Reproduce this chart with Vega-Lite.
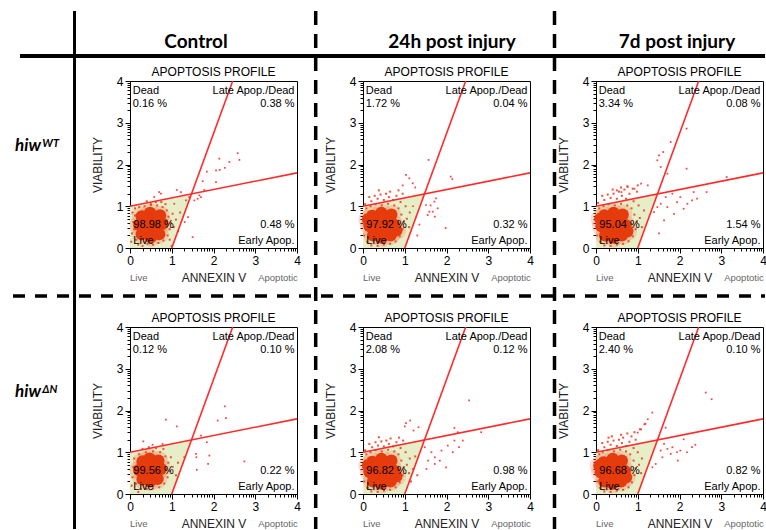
{
  "$schema": "https://vega.github.io/schema/vega-lite/v6.json",
  "padding": {"left": 10, "top": 8, "right": 0, "bottom": 0},
  "background": "white",
  "datasets": {
    "panels": [
      {"p": "A", "g": "WT", "c": "Control"},
      {"p": "B", "g": "WT", "c": "24h post injury"},
      {"p": "C", "g": "WT", "c": "7d post injury"},
      {"p": "D", "g": "ΔN", "c": "Control"},
      {"p": "E", "g": "ΔN", "c": "24h post injury"},
      {"p": "F", "g": "ΔN", "c": "7d post injury"}
    ]
  },
  "data": {"values": [
    {"p":"A","k":"s","dead":"0.16 %","late":"0.38 %","live":"98.98 %","early":"0.48 %"},
    {"p":"B","k":"s","dead":"1.72 %","late":"0.04 %","live":"97.92 %","early":"0.32 %"},
    {"p":"C","k":"s","dead":"3.34 %","late":"0.08 %","live":"95.04 %","early":"1.54 %"},
    {"p":"D","k":"s","dead":"0.12 %","late":"0.10 %","live":"99.56 %","early":"0.22 %"},
    {"p":"E","k":"s","dead":"2.08 %","late":"0.12 %","live":"96.82 %","early":"0.98 %"},
    {"p":"F","k":"s","dead":"2.40 %","late":"0.10 %","live":"96.68 %","early":"0.82 %"},
    {"p":"A","k":"g","x":0,"hi":1,"lo":0},{"p":"A","k":"g","x":1,"hi":1.2,"lo":0},{"p":"A","k":"g","x":1.472,"hi":1.294,"lo":1.294},
    {"p":"B","k":"g","x":0,"hi":1,"lo":0},{"p":"B","k":"g","x":1,"hi":1.2,"lo":0},{"p":"B","k":"g","x":1.472,"hi":1.294,"lo":1.294},
    {"p":"C","k":"g","x":0,"hi":1,"lo":0},{"p":"C","k":"g","x":1,"hi":1.2,"lo":0},{"p":"C","k":"g","x":1.472,"hi":1.294,"lo":1.294},
    {"p":"D","k":"g","x":0,"hi":1,"lo":0},{"p":"D","k":"g","x":1,"hi":1.2,"lo":0},{"p":"D","k":"g","x":1.472,"hi":1.294,"lo":1.294},
    {"p":"E","k":"g","x":0,"hi":1,"lo":0},{"p":"E","k":"g","x":1,"hi":1.2,"lo":0},{"p":"E","k":"g","x":1.472,"hi":1.294,"lo":1.294},
    {"p":"F","k":"g","x":0,"hi":1,"lo":0},{"p":"F","k":"g","x":1,"hi":1.2,"lo":0},{"p":"F","k":"g","x":1.472,"hi":1.294,"lo":1.294},

    {"p":"A","k":"c","x":0.5,"y":0.56},{"p":"A","k":"c","x":0.34,"y":0.56},{"p":"A","k":"c","x":0.66,"y":0.56},{"p":"A","k":"c","x":0.5,"y":0.4},{"p":"A","k":"c","x":0.5,"y":0.72},{"p":"A","k":"c","x":0.37,"y":0.43},{"p":"A","k":"c","x":0.63,"y":0.43},{"p":"A","k":"c","x":0.37,"y":0.69},{"p":"A","k":"c","x":0.63,"y":0.69},{"p":"A","k":"c","x":0.22,"y":0.55},{"p":"A","k":"c","x":0.78,"y":0.58},{"p":"A","k":"c","x":0.5,"y":0.26},{"p":"A","k":"c","x":0.48,"y":0.84},{"p":"A","k":"c","x":0.28,"y":0.33},{"p":"A","k":"c","x":0.7,"y":0.33},{"p":"A","k":"c","x":0.28,"y":0.76},{"p":"A","k":"c","x":0.72,"y":0.78},
    {"p":"A","k":"f","x":0.05,"y":0.35},{"p":"A","k":"f","x":0.08,"y":0.62},{"p":"A","k":"f","x":0.06,"y":0.85},{"p":"A","k":"f","x":0.12,"y":0.95},{"p":"A","k":"f","x":0.15,"y":0.2},{"p":"A","k":"f","x":0.2,"y":0.08},{"p":"A","k":"f","x":0.3,"y":0.05},{"p":"A","k":"f","x":0.42,"y":0.1},{"p":"A","k":"f","x":0.55,"y":0.08},{"p":"A","k":"f","x":0.68,"y":0.12},{"p":"A","k":"f","x":0.8,"y":0.18},{"p":"A","k":"f","x":0.9,"y":0.3},{"p":"A","k":"f","x":0.95,"y":0.45},{"p":"A","k":"f","x":0.98,"y":0.6},{"p":"A","k":"f","x":0.92,"y":0.75},{"p":"A","k":"f","x":0.88,"y":0.9},{"p":"A","k":"f","x":0.78,"y":0.98},{"p":"A","k":"f","x":0.65,"y":1.02},{"p":"A","k":"f","x":0.5,"y":1.03},{"p":"A","k":"f","x":0.35,"y":1.0},{"p":"A","k":"f","x":0.22,"y":0.98},{"p":"A","k":"f","x":0.12,"y":0.78},{"p":"A","k":"f","x":0.1,"y":0.45},{"p":"A","k":"f","x":1.05,"y":0.5},{"p":"A","k":"f","x":1.1,"y":0.68},{"p":"A","k":"f","x":1.02,"y":0.82},{"p":"A","k":"f","x":0.95,"y":0.2},{"p":"A","k":"f","x":1.15,"y":0.4},{"p":"A","k":"f","x":0.62,"y":1.1},{"p":"A","k":"f","x":0.4,"y":1.12},{"p":"A","k":"f","x":0.75,"y":1.1},{"p":"A","k":"f","x":1.2,"y":0.85},{"p":"A","k":"f","x":0.85,"y":1.05},{"p":"A","k":"f","x":0.03,"y":0.15},{"p":"A","k":"f","x":1.0,"y":0.05},
    {"p":"A","k":"o","x":2.14,"y":2.14},{"p":"A","k":"o","x":2.58,"y":2.27},{"p":"A","k":"o","x":2.62,"y":2.11},{"p":"A","k":"o","x":2.38,"y":2.06},{"p":"A","k":"o","x":2.27,"y":1.92},{"p":"A","k":"o","x":2.06,"y":1.86},{"p":"A","k":"o","x":2.15,"y":1.87},{"p":"A","k":"o","x":1.84,"y":1.83},{"p":"A","k":"o","x":1.74,"y":1.6},{"p":"A","k":"o","x":2.06,"y":1.58},{"p":"A","k":"o","x":1.78,"y":1.39},{"p":"A","k":"o","x":1.66,"y":1.26},{"p":"A","k":"o","x":1.62,"y":1.18},{"p":"A","k":"o","x":1.54,"y":1.14},{"p":"A","k":"o","x":1.7,"y":1.22},{"p":"A","k":"o","x":1.39,"y":0.74},{"p":"A","k":"o","x":1.31,"y":0.62},{"p":"A","k":"o","x":1.5,"y":0.26},{"p":"A","k":"o","x":1.22,"y":1.34},{"p":"A","k":"o","x":1.12,"y":1.39},{"p":"A","k":"o","x":0.7,"y":1.34},{"p":"A","k":"o","x":0.74,"y":1.3},{"p":"A","k":"o","x":0.58,"y":1.22},{"p":"A","k":"o","x":0.5,"y":1.06},{"p":"A","k":"o","x":1.06,"y":1.06},{"p":"A","k":"o","x":1.34,"y":1.14},{"p":"A","k":"o","x":1.42,"y":1.22},

    {"p":"B","k":"c","x":0.45,"y":0.55},{"p":"B","k":"c","x":0.29,"y":0.55},{"p":"B","k":"c","x":0.61,"y":0.55},{"p":"B","k":"c","x":0.45,"y":0.39},{"p":"B","k":"c","x":0.45,"y":0.71},{"p":"B","k":"c","x":0.32,"y":0.42},{"p":"B","k":"c","x":0.58,"y":0.42},{"p":"B","k":"c","x":0.32,"y":0.68},{"p":"B","k":"c","x":0.58,"y":0.68},{"p":"B","k":"c","x":0.16,"y":0.52},{"p":"B","k":"c","x":0.74,"y":0.56},{"p":"B","k":"c","x":0.45,"y":0.25},{"p":"B","k":"c","x":0.44,"y":0.84},{"p":"B","k":"c","x":0.24,"y":0.3},{"p":"B","k":"c","x":0.66,"y":0.3},{"p":"B","k":"c","x":0.22,"y":0.77},{"p":"B","k":"c","x":0.68,"y":0.8},{"p":"B","k":"c","x":0.12,"y":0.68},{"p":"B","k":"c","x":0.8,"y":0.42},
    {"p":"B","k":"f","x":0.03,"y":0.3},{"p":"B","k":"f","x":0.03,"y":0.55},{"p":"B","k":"f","x":0.05,"y":0.8},{"p":"B","k":"f","x":0.08,"y":0.95},{"p":"B","k":"f","x":0.1,"y":0.15},{"p":"B","k":"f","x":0.2,"y":0.06},{"p":"B","k":"f","x":0.35,"y":0.05},{"p":"B","k":"f","x":0.5,"y":0.08},{"p":"B","k":"f","x":0.65,"y":0.1},{"p":"B","k":"f","x":0.78,"y":0.16},{"p":"B","k":"f","x":0.88,"y":0.28},{"p":"B","k":"f","x":0.95,"y":0.45},{"p":"B","k":"f","x":0.98,"y":0.62},{"p":"B","k":"f","x":0.92,"y":0.8},{"p":"B","k":"f","x":0.85,"y":0.95},{"p":"B","k":"f","x":0.75,"y":1.02},{"p":"B","k":"f","x":0.6,"y":1.06},{"p":"B","k":"f","x":0.45,"y":1.02},{"p":"B","k":"f","x":0.3,"y":1.05},{"p":"B","k":"f","x":0.18,"y":1.0},{"p":"B","k":"f","x":0.2,"y":1.12},{"p":"B","k":"f","x":0.35,"y":1.18},{"p":"B","k":"f","x":0.5,"y":1.15},{"p":"B","k":"f","x":0.62,"y":1.22},{"p":"B","k":"f","x":0.72,"y":1.15},{"p":"B","k":"f","x":0.42,"y":1.28},{"p":"B","k":"f","x":0.55,"y":1.3},{"p":"B","k":"f","x":0.28,"y":1.25},{"p":"B","k":"f","x":0.8,"y":1.25},{"p":"B","k":"f","x":0.9,"y":1.1},{"p":"B","k":"f","x":1.02,"y":1.0},{"p":"B","k":"f","x":1.05,"y":0.7},{"p":"B","k":"f","x":1.1,"y":0.5},{"p":"B","k":"f","x":0.15,"y":1.22},{"p":"B","k":"f","x":0.65,"y":1.35},{"p":"B","k":"f","x":0.85,"y":1.38},{"p":"B","k":"f","x":0.38,"y":1.38},{"p":"B","k":"f","x":1.12,"y":0.85},{"p":"B","k":"f","x":0.05,"y":1.05},{"p":"B","k":"f","x":0.95,"y":1.3},
    {"p":"B","k":"o","x":1.57,"y":2.11},{"p":"B","k":"o","x":1.03,"y":1.75},{"p":"B","k":"o","x":1.11,"y":1.67},{"p":"B","k":"o","x":1.19,"y":1.55},{"p":"B","k":"o","x":2.1,"y":1.71},{"p":"B","k":"o","x":2.14,"y":1.65},{"p":"B","k":"o","x":1.75,"y":1.19},{"p":"B","k":"o","x":1.71,"y":1.11},{"p":"B","k":"o","x":1.79,"y":0.95},{"p":"B","k":"o","x":1.59,"y":0.87},{"p":"B","k":"o","x":1.67,"y":0.87},{"p":"B","k":"o","x":1.98,"y":0.48},{"p":"B","k":"o","x":1.35,"y":0.56},{"p":"B","k":"o","x":1.51,"y":1.03},{"p":"B","k":"o","x":1.55,"y":0.79},{"p":"B","k":"o","x":1.25,"y":1.45},{"p":"B","k":"o","x":0.95,"y":1.5},{"p":"B","k":"o","x":1.3,"y":0.3},{"p":"B","k":"o","x":1.2,"y":1.0},{"p":"B","k":"o","x":1.62,"y":1.02},{"p":"B","k":"o","x":1.72,"y":0.75},

    {"p":"C","k":"c","x":0.42,"y":0.55},{"p":"C","k":"c","x":0.26,"y":0.55},{"p":"C","k":"c","x":0.58,"y":0.55},{"p":"C","k":"c","x":0.42,"y":0.39},{"p":"C","k":"c","x":0.42,"y":0.71},{"p":"C","k":"c","x":0.29,"y":0.42},{"p":"C","k":"c","x":0.55,"y":0.42},{"p":"C","k":"c","x":0.29,"y":0.68},{"p":"C","k":"c","x":0.55,"y":0.68},{"p":"C","k":"c","x":0.13,"y":0.52},{"p":"C","k":"c","x":0.71,"y":0.55},{"p":"C","k":"c","x":0.42,"y":0.25},{"p":"C","k":"c","x":0.42,"y":0.84},{"p":"C","k":"c","x":0.22,"y":0.3},{"p":"C","k":"c","x":0.62,"y":0.3},{"p":"C","k":"c","x":0.2,"y":0.78},{"p":"C","k":"c","x":0.64,"y":0.8},{"p":"C","k":"c","x":0.1,"y":0.7},{"p":"C","k":"c","x":0.75,"y":0.4},
    {"p":"C","k":"f","x":0.03,"y":0.3},{"p":"C","k":"f","x":0.03,"y":0.55},{"p":"C","k":"f","x":0.05,"y":0.8},{"p":"C","k":"f","x":0.08,"y":0.95},{"p":"C","k":"f","x":0.1,"y":0.15},{"p":"C","k":"f","x":0.2,"y":0.06},{"p":"C","k":"f","x":0.35,"y":0.05},{"p":"C","k":"f","x":0.5,"y":0.08},{"p":"C","k":"f","x":0.65,"y":0.1},{"p":"C","k":"f","x":0.78,"y":0.16},{"p":"C","k":"f","x":0.88,"y":0.28},{"p":"C","k":"f","x":0.95,"y":0.45},{"p":"C","k":"f","x":0.98,"y":0.62},{"p":"C","k":"f","x":0.92,"y":0.8},{"p":"C","k":"f","x":0.85,"y":0.95},{"p":"C","k":"f","x":0.75,"y":1.02},{"p":"C","k":"f","x":0.6,"y":1.06},{"p":"C","k":"f","x":0.45,"y":1.02},{"p":"C","k":"f","x":0.3,"y":1.05},{"p":"C","k":"f","x":0.18,"y":1.0},{"p":"C","k":"f","x":0.2,"y":1.15},{"p":"C","k":"f","x":0.35,"y":1.2},{"p":"C","k":"f","x":0.5,"y":1.18},{"p":"C","k":"f","x":0.62,"y":1.25},{"p":"C","k":"f","x":0.72,"y":1.18},{"p":"C","k":"f","x":0.42,"y":1.3},{"p":"C","k":"f","x":0.55,"y":1.35},{"p":"C","k":"f","x":0.28,"y":1.28},{"p":"C","k":"f","x":0.8,"y":1.3},{"p":"C","k":"f","x":0.9,"y":1.12},{"p":"C","k":"f","x":1.02,"y":1.02},{"p":"C","k":"f","x":1.05,"y":0.72},{"p":"C","k":"f","x":1.1,"y":0.5},{"p":"C","k":"f","x":0.15,"y":1.25},{"p":"C","k":"f","x":0.68,"y":1.4},{"p":"C","k":"f","x":0.88,"y":1.42},{"p":"C","k":"f","x":0.4,"y":1.4},{"p":"C","k":"f","x":1.15,"y":0.9},{"p":"C","k":"f","x":0.05,"y":1.08},{"p":"C","k":"f","x":0.98,"y":1.35},{"p":"C","k":"f","x":0.6,"y":1.45},{"p":"C","k":"f","x":0.75,"y":1.48},{"p":"C","k":"f","x":1.0,"y":1.5},{"p":"C","k":"f","x":0.5,"y":1.38},
    {"p":"C","k":"o","x":2.17,"y":2.86},{"p":"C","k":"o","x":1.79,"y":2.54},{"p":"C","k":"o","x":1.61,"y":2.3},{"p":"C","k":"o","x":1.51,"y":2.22},{"p":"C","k":"o","x":1.47,"y":2.1},{"p":"C","k":"o","x":2.17,"y":1.9},{"p":"C","k":"o","x":1.55,"y":1.94},{"p":"C","k":"o","x":1.71,"y":1.78},{"p":"C","k":"o","x":2.65,"y":1.34},{"p":"C","k":"o","x":3.13,"y":1.7},{"p":"C","k":"o","x":2.34,"y":1.34},{"p":"C","k":"o","x":2.42,"y":1.18},{"p":"C","k":"o","x":2.19,"y":1.06},{"p":"C","k":"o","x":1.94,"y":1.1},{"p":"C","k":"o","x":1.87,"y":0.82},{"p":"C","k":"o","x":1.63,"y":0.66},{"p":"C","k":"o","x":1.51,"y":0.35},{"p":"C","k":"o","x":1.55,"y":1.06},{"p":"C","k":"o","x":1.71,"y":0.98},{"p":"C","k":"o","x":2.02,"y":1.22},{"p":"C","k":"o","x":2.1,"y":0.94},{"p":"C","k":"o","x":1.83,"y":1.3},{"p":"C","k":"o","x":1.67,"y":1.22},{"p":"C","k":"o","x":1.47,"y":0.98},{"p":"C","k":"o","x":1.39,"y":0.86},{"p":"C","k":"o","x":2.3,"y":1.14},{"p":"C","k":"o","x":1.08,"y":1.54},{"p":"C","k":"o","x":1.24,"y":1.5},{"p":"C","k":"o","x":0.92,"y":1.42},{"p":"C","k":"o","x":0.76,"y":1.46},{"p":"C","k":"o","x":0.61,"y":1.34},

    {"p":"D","k":"c","x":0.48,"y":0.58},{"p":"D","k":"c","x":0.33,"y":0.58},{"p":"D","k":"c","x":0.63,"y":0.58},{"p":"D","k":"c","x":0.48,"y":0.43},{"p":"D","k":"c","x":0.48,"y":0.73},{"p":"D","k":"c","x":0.36,"y":0.46},{"p":"D","k":"c","x":0.6,"y":0.46},{"p":"D","k":"c","x":0.36,"y":0.7},{"p":"D","k":"c","x":0.6,"y":0.7},{"p":"D","k":"c","x":0.22,"y":0.57},{"p":"D","k":"c","x":0.74,"y":0.6},{"p":"D","k":"c","x":0.48,"y":0.3},{"p":"D","k":"c","x":0.47,"y":0.85},{"p":"D","k":"c","x":0.3,"y":0.35},{"p":"D","k":"c","x":0.66,"y":0.36},{"p":"D","k":"c","x":0.3,"y":0.78},{"p":"D","k":"c","x":0.68,"y":0.8},
    {"p":"D","k":"f","x":0.06,"y":0.4},{"p":"D","k":"f","x":0.08,"y":0.65},{"p":"D","k":"f","x":0.1,"y":0.85},{"p":"D","k":"f","x":0.15,"y":0.25},{"p":"D","k":"f","x":0.25,"y":0.12},{"p":"D","k":"f","x":0.4,"y":0.12},{"p":"D","k":"f","x":0.55,"y":0.14},{"p":"D","k":"f","x":0.7,"y":0.16},{"p":"D","k":"f","x":0.82,"y":0.25},{"p":"D","k":"f","x":0.9,"y":0.4},{"p":"D","k":"f","x":0.95,"y":0.55},{"p":"D","k":"f","x":0.92,"y":0.75},{"p":"D","k":"f","x":0.85,"y":0.9},{"p":"D","k":"f","x":0.72,"y":1.0},{"p":"D","k":"f","x":0.55,"y":1.02},{"p":"D","k":"f","x":0.38,"y":1.0},{"p":"D","k":"f","x":0.22,"y":0.95},{"p":"D","k":"f","x":0.12,"y":0.5},{"p":"D","k":"f","x":1.02,"y":0.65},{"p":"D","k":"f","x":0.98,"y":0.88},{"p":"D","k":"f","x":0.62,"y":1.1},{"p":"D","k":"f","x":0.3,"y":1.08},{"p":"D","k":"f","x":1.1,"y":0.45},{"p":"D","k":"f","x":0.04,"y":0.2},{"p":"D","k":"f","x":0.2,"y":0.05},{"p":"D","k":"f","x":1.15,"y":0.75},{"p":"D","k":"f","x":0.8,"y":1.08},{"p":"D","k":"f","x":0.45,"y":1.12},
    {"p":"D","k":"o","x":2.27,"y":2.1},{"p":"D","k":"o","x":2.3,"y":1.82},{"p":"D","k":"o","x":2.1,"y":1.76},{"p":"D","k":"o","x":0.86,"y":1.78},{"p":"D","k":"o","x":1.12,"y":1.62},{"p":"D","k":"o","x":1.7,"y":1.4},{"p":"D","k":"o","x":1.84,"y":1.24},{"p":"D","k":"o","x":1.58,"y":0.96},{"p":"D","k":"o","x":1.59,"y":0.88},{"p":"D","k":"o","x":1.9,"y":0.92},{"p":"D","k":"o","x":1.87,"y":0.72},{"p":"D","k":"o","x":1.6,"y":0.58},{"p":"D","k":"o","x":2.74,"y":0.78},{"p":"D","k":"o","x":0.32,"y":1.26},{"p":"D","k":"o","x":0.54,"y":1.18},{"p":"D","k":"o","x":0.78,"y":1.2},{"p":"D","k":"o","x":1.3,"y":0.88},

    {"p":"E","k":"c","x":0.45,"y":0.55},{"p":"E","k":"c","x":0.29,"y":0.55},{"p":"E","k":"c","x":0.61,"y":0.55},{"p":"E","k":"c","x":0.45,"y":0.39},{"p":"E","k":"c","x":0.45,"y":0.71},{"p":"E","k":"c","x":0.32,"y":0.42},{"p":"E","k":"c","x":0.58,"y":0.42},{"p":"E","k":"c","x":0.32,"y":0.68},{"p":"E","k":"c","x":0.58,"y":0.68},{"p":"E","k":"c","x":0.16,"y":0.52},{"p":"E","k":"c","x":0.74,"y":0.56},{"p":"E","k":"c","x":0.45,"y":0.25},{"p":"E","k":"c","x":0.44,"y":0.84},{"p":"E","k":"c","x":0.24,"y":0.3},{"p":"E","k":"c","x":0.66,"y":0.3},{"p":"E","k":"c","x":0.22,"y":0.77},{"p":"E","k":"c","x":0.68,"y":0.8},{"p":"E","k":"c","x":0.12,"y":0.68},{"p":"E","k":"c","x":0.8,"y":0.42},
    {"p":"E","k":"f","x":0.03,"y":0.3},{"p":"E","k":"f","x":0.03,"y":0.55},{"p":"E","k":"f","x":0.05,"y":0.8},{"p":"E","k":"f","x":0.08,"y":0.95},{"p":"E","k":"f","x":0.1,"y":0.15},{"p":"E","k":"f","x":0.2,"y":0.06},{"p":"E","k":"f","x":0.35,"y":0.05},{"p":"E","k":"f","x":0.5,"y":0.08},{"p":"E","k":"f","x":0.65,"y":0.1},{"p":"E","k":"f","x":0.78,"y":0.16},{"p":"E","k":"f","x":0.88,"y":0.28},{"p":"E","k":"f","x":0.95,"y":0.45},{"p":"E","k":"f","x":0.98,"y":0.62},{"p":"E","k":"f","x":0.92,"y":0.8},{"p":"E","k":"f","x":0.85,"y":0.95},{"p":"E","k":"f","x":0.75,"y":1.02},{"p":"E","k":"f","x":0.6,"y":1.06},{"p":"E","k":"f","x":0.45,"y":1.02},{"p":"E","k":"f","x":0.3,"y":1.05},{"p":"E","k":"f","x":0.18,"y":1.0},{"p":"E","k":"f","x":0.22,"y":1.12},{"p":"E","k":"f","x":0.36,"y":1.16},{"p":"E","k":"f","x":0.5,"y":1.14},{"p":"E","k":"f","x":0.62,"y":1.2},{"p":"E","k":"f","x":0.72,"y":1.14},{"p":"E","k":"f","x":0.44,"y":1.26},{"p":"E","k":"f","x":0.56,"y":1.28},{"p":"E","k":"f","x":0.3,"y":1.24},{"p":"E","k":"f","x":0.8,"y":1.24},{"p":"E","k":"f","x":0.9,"y":1.1},{"p":"E","k":"f","x":1.02,"y":1.0},{"p":"E","k":"f","x":1.05,"y":0.7},{"p":"E","k":"f","x":1.1,"y":0.5},{"p":"E","k":"f","x":0.15,"y":1.2},{"p":"E","k":"f","x":0.66,"y":1.33},{"p":"E","k":"f","x":0.86,"y":1.35},{"p":"E","k":"f","x":0.38,"y":1.36},{"p":"E","k":"f","x":1.12,"y":0.85},{"p":"E","k":"f","x":0.05,"y":1.05},{"p":"E","k":"f","x":0.96,"y":1.28},{"p":"E","k":"f","x":1.15,"y":0.3},{"p":"E","k":"f","x":1.2,"y":0.6},{"p":"E","k":"f","x":1.25,"y":0.9},{"p":"E","k":"f","x":1.3,"y":0.45},
    {"p":"E","k":"o","x":2.54,"y":2.24},{"p":"E","k":"o","x":1.13,"y":1.76},{"p":"E","k":"o","x":1.03,"y":1.7},{"p":"E","k":"o","x":1.0,"y":1.62},{"p":"E","k":"o","x":2.19,"y":1.58},{"p":"E","k":"o","x":2.27,"y":1.48},{"p":"E","k":"o","x":2.83,"y":1.48},{"p":"E","k":"o","x":2.39,"y":1.28},{"p":"E","k":"o","x":2.19,"y":1.28},{"p":"E","k":"o","x":2.03,"y":1.16},{"p":"E","k":"o","x":2.3,"y":1.12},{"p":"E","k":"o","x":1.88,"y":1.04},{"p":"E","k":"o","x":2.15,"y":1.0},{"p":"E","k":"o","x":1.72,"y":0.88},{"p":"E","k":"o","x":1.56,"y":0.8},{"p":"E","k":"o","x":1.52,"y":0.6},{"p":"E","k":"o","x":1.99,"y":0.64},{"p":"E","k":"o","x":1.72,"y":0.72},{"p":"E","k":"o","x":1.64,"y":1.0},{"p":"E","k":"o","x":1.48,"y":1.12},{"p":"E","k":"o","x":1.84,"y":0.8},{"p":"E","k":"o","x":1.21,"y":1.52},{"p":"E","k":"o","x":1.33,"y":1.6},

    {"p":"F","k":"c","x":0.4,"y":0.55},{"p":"F","k":"c","x":0.24,"y":0.55},{"p":"F","k":"c","x":0.56,"y":0.55},{"p":"F","k":"c","x":0.4,"y":0.39},{"p":"F","k":"c","x":0.4,"y":0.71},{"p":"F","k":"c","x":0.27,"y":0.42},{"p":"F","k":"c","x":0.53,"y":0.42},{"p":"F","k":"c","x":0.27,"y":0.68},{"p":"F","k":"c","x":0.53,"y":0.68},{"p":"F","k":"c","x":0.11,"y":0.52},{"p":"F","k":"c","x":0.69,"y":0.55},{"p":"F","k":"c","x":0.4,"y":0.25},{"p":"F","k":"c","x":0.4,"y":0.84},{"p":"F","k":"c","x":0.2,"y":0.3},{"p":"F","k":"c","x":0.6,"y":0.3},{"p":"F","k":"c","x":0.18,"y":0.76},{"p":"F","k":"c","x":0.62,"y":0.8},{"p":"F","k":"c","x":0.08,"y":0.68},{"p":"F","k":"c","x":0.72,"y":0.4},
    {"p":"F","k":"f","x":0.03,"y":0.3},{"p":"F","k":"f","x":0.03,"y":0.55},{"p":"F","k":"f","x":0.05,"y":0.8},{"p":"F","k":"f","x":0.08,"y":0.95},{"p":"F","k":"f","x":0.1,"y":0.15},{"p":"F","k":"f","x":0.2,"y":0.06},{"p":"F","k":"f","x":0.35,"y":0.05},{"p":"F","k":"f","x":0.5,"y":0.08},{"p":"F","k":"f","x":0.65,"y":0.1},{"p":"F","k":"f","x":0.78,"y":0.16},{"p":"F","k":"f","x":0.86,"y":0.28},{"p":"F","k":"f","x":0.92,"y":0.45},{"p":"F","k":"f","x":0.95,"y":0.62},{"p":"F","k":"f","x":0.9,"y":0.8},{"p":"F","k":"f","x":0.82,"y":0.95},{"p":"F","k":"f","x":0.72,"y":1.02},{"p":"F","k":"f","x":0.58,"y":1.06},{"p":"F","k":"f","x":0.43,"y":1.02},{"p":"F","k":"f","x":0.28,"y":1.05},{"p":"F","k":"f","x":0.16,"y":1.0},{"p":"F","k":"f","x":0.2,"y":1.12},{"p":"F","k":"f","x":0.35,"y":1.18},{"p":"F","k":"f","x":0.5,"y":1.15},{"p":"F","k":"f","x":0.62,"y":1.22},{"p":"F","k":"f","x":0.72,"y":1.15},{"p":"F","k":"f","x":0.42,"y":1.28},{"p":"F","k":"f","x":0.55,"y":1.3},{"p":"F","k":"f","x":0.28,"y":1.25},{"p":"F","k":"f","x":0.8,"y":1.25},{"p":"F","k":"f","x":0.9,"y":1.1},{"p":"F","k":"f","x":1.0,"y":1.0},{"p":"F","k":"f","x":1.03,"y":0.7},{"p":"F","k":"f","x":1.08,"y":0.5},{"p":"F","k":"f","x":0.15,"y":1.22},{"p":"F","k":"f","x":0.65,"y":1.35},{"p":"F","k":"f","x":0.85,"y":1.38},{"p":"F","k":"f","x":0.38,"y":1.38},{"p":"F","k":"f","x":1.1,"y":0.85},{"p":"F","k":"f","x":0.05,"y":1.05},{"p":"F","k":"f","x":0.95,"y":1.3},{"p":"F","k":"f","x":0.6,"y":1.42},{"p":"F","k":"f","x":0.75,"y":1.45},{"p":"F","k":"f","x":0.92,"y":1.48},{"p":"F","k":"f","x":1.05,"y":1.55},{"p":"F","k":"f","x":1.18,"y":1.68},{"p":"F","k":"f","x":0.3,"y":1.35},
    {"p":"F","k":"o","x":2.63,"y":2.43},{"p":"F","k":"o","x":2.77,"y":2.27},{"p":"F","k":"o","x":1.35,"y":1.95},{"p":"F","k":"o","x":1.24,"y":1.79},{"p":"F","k":"o","x":1.16,"y":1.67},{"p":"F","k":"o","x":1.67,"y":1.59},{"p":"F","k":"o","x":1.08,"y":1.55},{"p":"F","k":"o","x":1.0,"y":1.47},{"p":"F","k":"o","x":2.38,"y":1.18},{"p":"F","k":"o","x":2.3,"y":1.12},{"p":"F","k":"o","x":2.1,"y":1.31},{"p":"F","k":"o","x":2.02,"y":1.04},{"p":"F","k":"o","x":1.94,"y":1.0},{"p":"F","k":"o","x":1.83,"y":1.12},{"p":"F","k":"o","x":1.71,"y":1.08},{"p":"F","k":"o","x":1.96,"y":0.8},{"p":"F","k":"o","x":1.59,"y":0.88},{"p":"F","k":"o","x":1.55,"y":1.04},{"p":"F","k":"o","x":1.43,"y":0.72},{"p":"F","k":"o","x":1.35,"y":0.64},{"p":"F","k":"o","x":1.63,"y":1.2},{"p":"F","k":"o","x":2.18,"y":1.0},{"p":"F","k":"o","x":1.79,"y":0.96}
  ]},
  "transform": [{"lookup": "p", "from": {"data": {"name": "panels"}, "key": "p", "fields": ["g", "c"]}}],
  "facet": {
    "row": {"field": "g", "type": "nominal", "header": null, "sort": ["WT", "ΔN"]},
    "column": {"field": "c", "type": "nominal", "header": null, "sort": ["Control", "24h post injury", "7d post injury"]}
  },
  "spacing": {"row": 79, "column": 66},
  "bounds": "flush",
  "resolve": {"axis": {"x": "independent", "y": "independent"}},
  "spec": {
    "width": 167,
    "height": 167,
    "resolve": {"axis": {"x": "independent", "y": "independent"}},
    "layer": [
      {"layer": [
      {"transform": [{"filter": "datum.k == 'g'"}],
       "mark": {"type": "area", "color": "#e6eec8", "opacity": 1},
       "encoding": {
         "x": {"field": "x", "type": "quantitative", "scale": {"domain": [0, 4], "nice": false}, "title": "ANNEXIN V", "axis": {"values": [0, 1, 2, 3, 4], "orient": "bottom"}},
         "y": {"field": "hi", "type": "quantitative", "scale": {"domain": [0, 4], "nice": false}, "title": "VIABILITY", "axis": {"values": [0, 1, 2, 3, 4], "orient": "left"}},
         "y2": {"field": "lo"}}},
      {"transform": [{"filter": "datum.k == 'c'"}],
       "mark": {"type": "circle", "size": 380, "color": "#f06a48", "opacity": 0.22},
       "encoding": {"x": {"field": "x", "type": "quantitative"}, "y": {"field": "y", "type": "quantitative"}}},
      {"transform": [{"filter": "datum.k == 'f'"}],
       "mark": {"type": "square", "size": 4, "color": "#ee4020", "opacity": 0.9},
       "encoding": {"x": {"field": "x", "type": "quantitative"}, "y": {"field": "y", "type": "quantitative"}}},
      {"transform": [{"filter": "datum.k == 'c'"}],
       "mark": {"type": "circle", "size": 150, "color": "#e63b0c", "opacity": 1},
       "encoding": {"x": {"field": "x", "type": "quantitative"}, "y": {"field": "y", "type": "quantitative"}}},
      {"transform": [{"filter": "datum.k == 'o'"}],
       "mark": {"type": "square", "size": 3, "color": "#ff2a2a", "opacity": 0.9},
       "encoding": {"x": {"field": "x", "type": "quantitative"}, "y": {"field": "y", "type": "quantitative"}}},
      {"transform": [{"filter": "datum.k == 's'"}],
       "mark": {"type": "rule", "color": "#ff2a2a", "strokeWidth": 1.6},
       "encoding": {"x": {"datum": 1}, "y": {"datum": 0}, "x2": {"datum": 2.46}, "y2": {"datum": 4}}},
      {"transform": [{"filter": "datum.k == 's'"}],
       "mark": {"type": "rule", "color": "#ff2a2a", "strokeWidth": 1.6},
       "encoding": {"x": {"datum": 0}, "y": {"datum": 1}, "x2": {"datum": 4}, "y2": {"datum": 1.8}}},
      {"transform": [{"filter": "datum.k == 's'"}],
       "mark": {"type": "text", "text": "Dead", "align": "left", "baseline": "middle", "fontSize": 11, "font": "Liberation Sans", "color": "#000"},
       "encoding": {"x": {"datum": 0.065}, "y": {"datum": 3.76}}},
      {"transform": [{"filter": "datum.k == 's'"}],
       "mark": {"type": "text", "align": "left", "baseline": "middle", "fontSize": 11, "font": "Liberation Sans", "color": "#000"},
       "encoding": {"x": {"datum": 0.065}, "y": {"datum": 3.44}, "text": {"field": "dead"}}},
      {"transform": [{"filter": "datum.k == 's'"}],
       "mark": {"type": "text", "text": "Late Apop./Dead", "align": "right", "baseline": "middle", "fontSize": 11, "font": "Liberation Sans", "color": "#000"},
       "encoding": {"x": {"datum": 3.94}, "y": {"datum": 3.76}}},
      {"transform": [{"filter": "datum.k == 's'"}],
       "mark": {"type": "text", "align": "right", "baseline": "middle", "fontSize": 11, "font": "Liberation Sans", "color": "#000"},
       "encoding": {"x": {"datum": 3.94}, "y": {"datum": 3.44}, "text": {"field": "late"}}},
      {"transform": [{"filter": "datum.k == 's'"}],
       "mark": {"type": "text", "align": "left", "baseline": "middle", "fontSize": 11, "font": "Liberation Sans", "color": "#000"},
       "encoding": {"x": {"datum": 0.08}, "y": {"datum": 0.54}, "text": {"field": "live"}}},
      {"transform": [{"filter": "datum.k == 's'"}],
       "mark": {"type": "text", "text": "Live", "align": "left", "baseline": "middle", "fontSize": 11, "font": "Liberation Sans", "color": "#000"},
       "encoding": {"x": {"datum": 0.08}, "y": {"datum": 0.17}}},
      {"transform": [{"filter": "datum.k == 's'"}],
       "mark": {"type": "text", "align": "right", "baseline": "middle", "fontSize": 11, "font": "Liberation Sans", "color": "#000"},
       "encoding": {"x": {"datum": 3.94}, "y": {"datum": 0.54}, "text": {"field": "early"}}},
      {"transform": [{"filter": "datum.k == 's'"}],
       "mark": {"type": "text", "text": "Early Apop.", "align": "right", "baseline": "middle", "fontSize": 11, "font": "Liberation Sans", "color": "#000"},
       "encoding": {"x": {"datum": 3.94}, "y": {"datum": 0.17}}},
      {"transform": [{"filter": "datum.k == 's'"}],
       "mark": {"type": "text", "text": "APOPTOSIS PROFILE", "align": "center", "baseline": "middle", "fontSize": 12, "font": "Liberation Sans", "color": "#000"},
       "encoding": {"x": {"datum": 2}, "y": {"datum": 4.216}}},
      {"transform": [{"filter": "datum.k == 's'"}],
       "mark": {"type": "text", "text": "Live", "align": "left", "baseline": "middle", "fontSize": 9.5, "font": "Liberation Sans", "color": "#666"},
       "encoding": {"x": {"datum": 0}, "y": {"datum": -0.72}}},
      {"transform": [{"filter": "datum.k == 's'"}],
       "mark": {"type": "text", "text": "Apoptotic", "align": "right", "baseline": "middle", "fontSize": 9.5, "font": "Liberation Sans", "color": "#666"},
       "encoding": {"x": {"datum": 4.02}, "y": {"datum": -0.72}}},
      {"transform": [{"filter": "datum.k == 's' && datum.c == 'Control'"}],
       "mark": {"type": "text", "text": "hiw", "align": "right", "baseline": "alphabetic", "fontSize": 17, "font": "Lato", "fontWeight": "bold", "fontStyle": "italic", "color": "#000"},
       "encoding": {"x": {"datum": -2.132}, "y": {"datum": 2.33}}},
      {"transform": [{"filter": "datum.k == 's' && datum.c == 'Control'"}],
       "mark": {"type": "text", "align": "left", "baseline": "alphabetic", "dy": -4, "fontSize": 11, "font": "Lato", "fontWeight": "bold", "fontStyle": "italic", "color": "#000"},
       "encoding": {"x": {"datum": -2.10}, "y": {"datum": 2.33}, "text": {"field": "g"}}},
      {"transform": [{"filter": "datum.k == 's' && datum.g == 'WT' && datum.c == 'Control'"}],
       "mark": {"type": "text", "align": "center", "baseline": "alphabetic", "fontSize": 19, "font": "Lato", "fontWeight": "bold", "color": "#000"},
       "encoding": {"x": {"datum": 1.58}, "y": {"datum": 4.79}, "text": {"field": "c"}}},
      {"transform": [{"filter": "datum.k == 's' && datum.g == 'WT' && datum.c == '24h post injury'"}],
       "mark": {"type": "text", "align": "center", "baseline": "alphabetic", "fontSize": 19, "font": "Lato", "fontWeight": "bold", "color": "#000"},
       "encoding": {"x": {"datum": 2.132}, "y": {"datum": 4.79}, "text": {"field": "c"}}},
      {"transform": [{"filter": "datum.k == 's' && datum.g == 'WT' && datum.c == '7d post injury'"}],
       "mark": {"type": "text", "align": "center", "baseline": "alphabetic", "fontSize": 19, "font": "Lato", "fontWeight": "bold", "color": "#000"},
       "encoding": {"x": {"datum": 1.94}, "y": {"datum": 4.79}, "text": {"field": "c"}}},
      {"transform": [{"filter": "datum.k == 's' && datum.g == 'WT' && datum.c == 'Control'"}],
       "mark": {"type": "rule", "color": "#000", "strokeWidth": 3},
       "encoding": {"x": {"datum": -1.329}, "y": {"datum": 5.677}, "y2": {"datum": -6.73}}},
      {"transform": [{"filter": "datum.k == 's' && datum.g == 'WT' && datum.c == '24h post injury'"}],
       "mark": {"type": "rule", "color": "#000", "strokeWidth": 3.5, "strokeDash": [14, 9]},
       "encoding": {"x": {"datum": -1.133}, "y": {"datum": 5.677}, "y2": {"datum": -6.73}}},
      {"transform": [{"filter": "datum.k == 's' && datum.g == 'WT' && datum.c == '7d post injury'"}],
       "mark": {"type": "rule", "color": "#000", "strokeWidth": 3.5, "strokeDash": [14, 9]},
       "encoding": {"x": {"datum": -0.994}, "y": {"datum": 5.677}, "y2": {"datum": -6.73}}},
      {"transform": [{"filter": "datum.k == 's' && datum.g == 'WT' && datum.c == 'Control'"}],
       "mark": {"type": "rule", "color": "#000", "strokeWidth": 4},
       "encoding": {"y": {"datum": 4.599}, "x": {"datum": -2.635}, "x2": {"datum": 15.21}}},
      {"transform": [{"filter": "datum.k == 's' && datum.g == 'ΔN' && datum.c == 'Control'"}],
       "mark": {"type": "rule", "color": "#000", "strokeWidth": 3.5, "strokeDash": [12, 10]},
       "encoding": {"y": {"datum": 4.742}, "x": {"datum": -2.802}, "x2": {"datum": 15.21}}}
      ]},
      {"transform": [{"filter": "datum.k == 's'"}],
       "mark": {"type": "point", "opacity": 0},
       "encoding": {
         "x": {"datum": 0, "type": "quantitative", "axis": {"orient": "bottom", "title": null, "labels": false, "domain": false, "tickSize": 3, "values": [0.301,0.477,0.602,0.699,0.778,0.845,0.903,0.954,1.301,1.477,1.602,1.699,1.778,1.845,1.903,1.954,2.301,2.477,2.602,2.699,2.778,2.845,2.903,2.954,3.301,3.477,3.602,3.699,3.778,3.845,3.903,3.954]}},
         "y": {"datum": 0, "type": "quantitative", "axis": {"orient": "left", "title": null, "labels": false, "domain": false, "tickSize": 3, "values": [0.301,0.477,0.602,0.699,0.778,0.845,0.903,0.954,1.301,1.477,1.602,1.699,1.778,1.845,1.903,1.954,2.301,2.477,2.602,2.699,2.778,2.845,2.903,2.954,3.301,3.477,3.602,3.699,3.778,3.845,3.903,3.954]}}}}
    ]
  },
  "config": {
    "view": {"stroke": "#000", "strokeWidth": 1},
    "font": "Liberation Sans",
    "axis": {"grid": false, "domainColor": "#000", "tickColor": "#000", "labelColor": "#000", "labelFont": "Liberation Sans", "labelFontSize": 12, "titleFont": "Liberation Sans", "titleFontSize": 12, "titleFontWeight": "normal", "titleColor": "#222", "tickSize": 5, "labelPadding": 2, "labelFlush": false},
    "axisX": {"titlePadding": 6},
    "axisY": {"titlePadding": 12}
  }
}
